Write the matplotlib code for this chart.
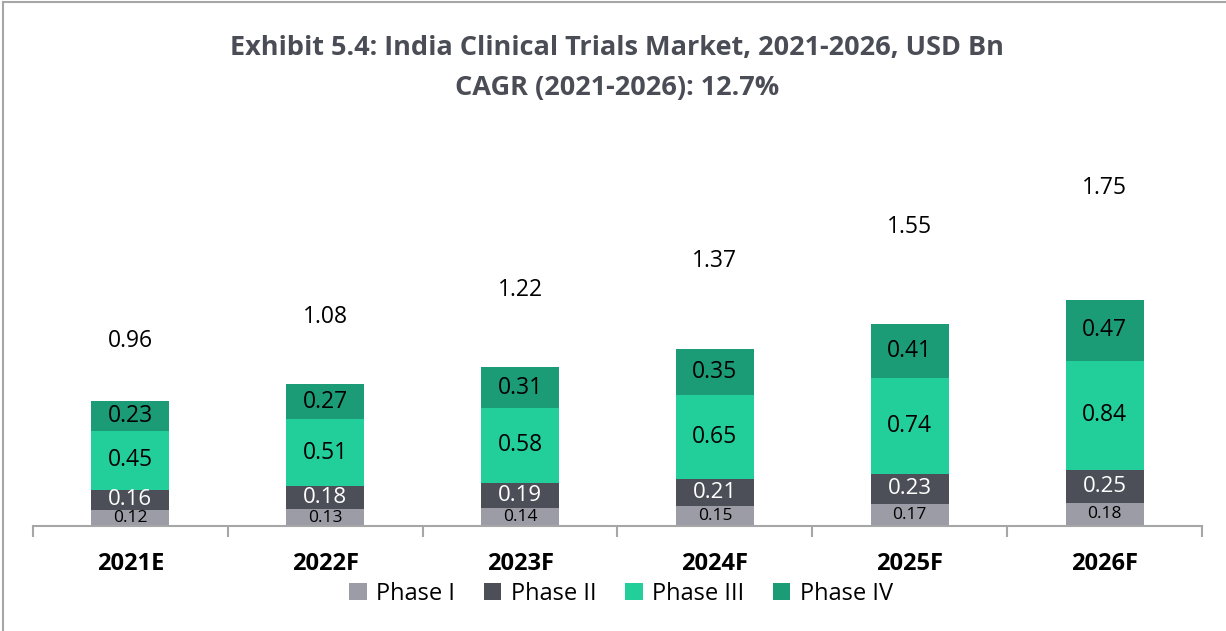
import numpy as np
import matplotlib.pyplot as plt
from matplotlib.lines import Line2D

years = ["2021E", "2022F", "2023F", "2024F", "2025F", "2026F"]
phase1 = [0.12, 0.13, 0.14, 0.15, 0.17, 0.18]
phase2 = [0.16, 0.18, 0.19, 0.21, 0.23, 0.25]
phase3 = [0.45, 0.51, 0.58, 0.65, 0.74, 0.84]
phase4 = [0.23, 0.27, 0.31, 0.35, 0.41, 0.47]
totals = [0.96, 1.08, 1.22, 1.37, 1.55, 1.75]

series = [("Phase I", phase1, "#9c9ca6", "black", 12.5),
          ("Phase II", phase2, "#4c4f57", "white", 16),
          ("Phase III", phase3, "#22cf9b", "black", 16.5),
          ("Phase IV", phase4, "#1b9c76", "black", 16.5)]

fig = plt.figure(figsize=(12.26, 6.31), dpi=100)
ax = fig.add_axes([33 / 1226, 1 - 526 / 631, 1169 / 1226, 381 / 631])

x = np.arange(len(years))
bottom = np.zeros(len(years))
for name, vals, col, tcol, fs in series:
    vals = np.array(vals)
    ax.bar(x, vals, width=0.4, bottom=bottom, color=col, label=name, edgecolor="none")
    for xi, b, v in zip(x, bottom, vals):
        ax.text(xi, b + v / 2, f"{v:.2f}", ha="center", va="center",
                color=tcol, fontsize=fs, family="Open Sans")
    bottom = bottom + vals

# totals sit well above the bars
for xi, t in zip(x, totals):
    ax.text(xi, t * 1.485, f"{t:.2f}", ha="center", va="center",
            fontsize=16.5, family="Open Sans", color="black")

ax.set_xlim(-0.5, len(years) - 0.5)
ax.set_ylim(0, 2.93)
for s in ["top", "right", "left"]:
    ax.spines[s].set_visible(False)
ax.spines["bottom"].set_color("#a6a6a6")
ax.spines["bottom"].set_linewidth(1.5)
ax.set_yticks([])
ax.set_xticks(x)
ax.set_xticklabels(years, fontsize=17, fontweight="bold", family="Open Sans")
ax.set_xticks(np.arange(-0.5, len(years), 1), minor=True)
ax.tick_params(axis="x", which="major", length=0, pad=19)
ax.tick_params(axis="x", which="minor", length=8, width=1.5, color="#a6a6a6")

ax.legend(loc="center", bbox_to_anchor=(621 / 1226, 1 - 594 / 631),
          bbox_transform=fig.transFigure, ncol=4, frameon=False,
          prop={"family": "Open Sans", "size": 17}, handlelength=0.75,
          handleheight=0.75, handletextpad=0.4, columnspacing=1.2)

fig.text(617 / 1226, 1 - 48 / 631, "Exhibit 5.4: India Clinical Trials Market, 2021-2026, USD Bn",
         ha="center", va="center", fontsize=19.5, fontweight="bold", color="#4a4d55", family="Open Sans")
fig.text(617 / 1226, 1 - 88 / 631, "CAGR (2021-2026): 12.7%",
         ha="center", va="center", fontsize=19.5, fontweight="bold", color="#4a4d55", family="Open Sans")

# outer frame (top and left edges visible)
fig.add_artist(Line2D([3 / 1226, 3 / 1226], [0, 1 - 2 / 631], transform=fig.transFigure, color="#a6a6a6", lw=1.5))
fig.add_artist(Line2D([3 / 1226, 1], [1 - 2 / 631, 1 - 2 / 631], transform=fig.transFigure, color="#a6a6a6", lw=1.5))

fig.savefig("out.png", dpi=100)
